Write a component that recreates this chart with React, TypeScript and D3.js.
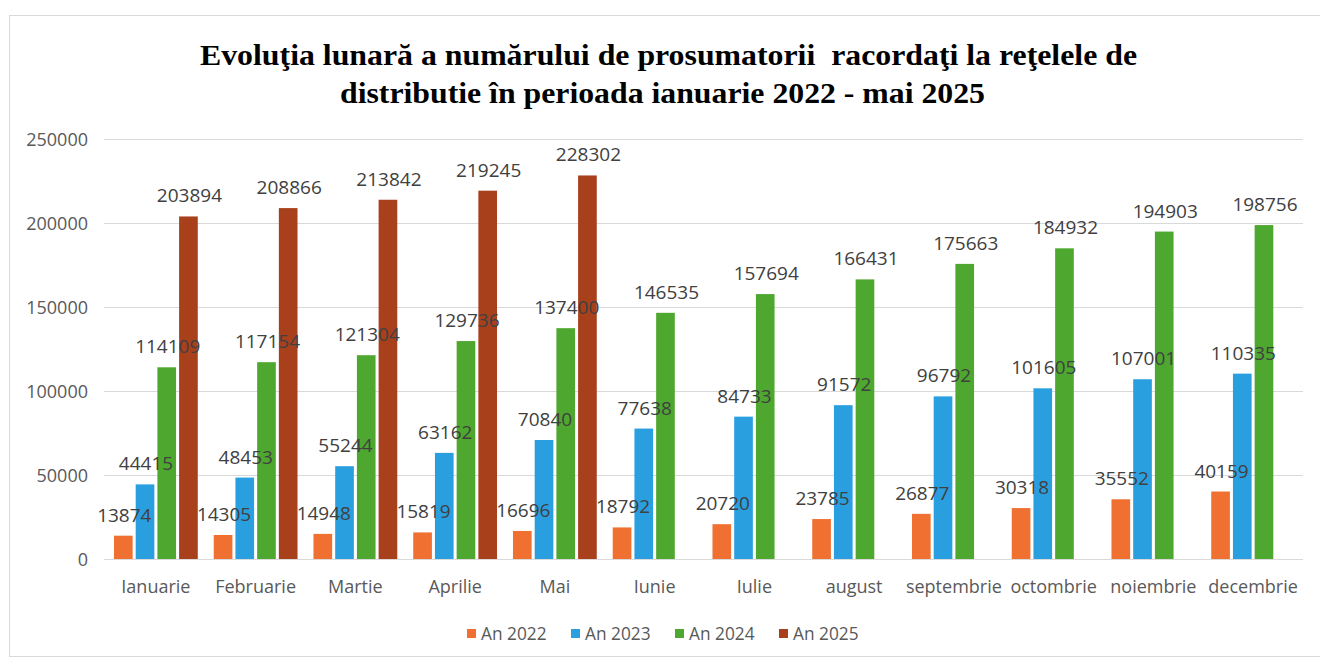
import React from "react";
import * as d3 from "d3";

const months = ["Ianuarie","Februarie","Martie","Aprilie","Mai","Iunie","Iulie","august","septembrie","octombrie","noiembrie","decembrie"];
const seriesNames = ["An 2022","An 2023","An 2024","An 2025"];
const an2022 = [13874,14305,14948,15819,16696,18792,20720,23785,26877,30318,35552,40159];
const an2023 = [44415,48453,55244,63162,70840,77638,84733,91572,96792,101605,107001,110335];
const an2024 = [114109,117154,121304,129736,137400,146535,157694,166431,175663,184932,194903,198756];
const an2025: (number|null)[] = [203894,208866,213842,219245,228302,null,null,null,null,null,null,null];
const yTicks = [0,50000,100000,150000,200000,250000];
const colors = ["#EF7030","#2A9FE0","#4EA82F","#A8401C"];
const titleLines = ["Evoluţia lunară a numărului de prosumatorii  racordaţi la reţelele de","distributie în perioada ianuarie 2022 - mai 2025"];

const W = 1320, H = 659;

export default function App() {
  const allSeries = [an2022, an2023, an2024, an2025];
  const x0 = d3.scaleBand<string>().domain(months).range([106, 1303]).paddingInner(0.16).paddingOuter(0.08);
  const x1 = d3.scaleBand<string>().domain(seriesNames).range([0, x0.bandwidth()]).paddingInner(0.14);
  const y = d3.scaleLinear().domain([0, 250000]).range([559, 139]);
  const labelFont = "'Open Sans', sans-serif";

  const bars: { x: number; w: number; v: number; si: number }[] = [];
  months.forEach((m, mi) => {
    allSeries.forEach((s, si) => {
      const v = s[mi];
      if (v == null) return;
      bars.push({ x: (x0(m) as number) + (x1(seriesNames[si]) as number), w: x1.bandwidth(), v, si });
    });
  });

  const titleGeom = [{ cx: 668.5, len: 937, y: 65 }, { cx: 662.5, len: 645, y: 103 }];

  return (
    <svg width={W} height={H} style={{ position: "absolute", left: 0, top: 0, background: "#fff" }}>
      <rect x={0} y={0} width={W} height={H} fill="#fff" />
      <rect x={9.5} y={15.5} width={W} height={641} fill="#fff" stroke="#d9d9d9" strokeWidth={1} />
      {titleLines.map((t, i) => (
        <text key={i} x={titleGeom[i].cx} y={titleGeom[i].y} textAnchor="middle" textLength={titleGeom[i].len} lengthAdjust="spacingAndGlyphs"
          style={{ whiteSpace: "pre" }}
          fontFamily="'Liberation Serif', 'Times New Roman', serif" fontWeight="bold" fontSize={30} fill="#000">{t}</text>
      ))}
      {yTicks.map((t) => (
        <g key={t}>
          <line x1={104} x2={1303} y1={y(t) + 0.5} y2={y(t) + 0.5} stroke="#d9d9d9" strokeWidth={1} />
          <text x={88} y={y(t) + 6.5} textAnchor="end" fontFamily={labelFont} fontSize={18} fill="#595959">{t}</text>
        </g>
      ))}
      {bars.map((b, i) => (
        <rect key={"b" + i} x={b.x} y={y(b.v)} width={b.w} height={y(0) - y(b.v)} fill={colors[b.si]} />
      ))}
      {bars.map((b, i) => (
        <text key={"t" + i} x={b.x + b.w / 2 + 1} y={y(b.v) - 14} textAnchor="middle" fontFamily={labelFont} fontSize={19} fill="#404040">{b.v}</text>
      ))}
      {months.map((m) => (
        <text key={m} x={(x0(m) as number) + x0.bandwidth() / 2} y={593} textAnchor="middle" fontFamily={labelFont} fontSize={18} fill="#595959">{m}</text>
      ))}
      {seriesNames.map((n, i) => {
        const lx = 467 + i * 104;
        return (
          <g key={n}>
            <rect x={lx} y={629} width={9} height={9} fill={colors[i]} />
            <text x={lx + 14} y={640} fontFamily={labelFont} fontSize={17.3} fill="#595959">{n}</text>
          </g>
        );
      })}
    </svg>
  );
}
